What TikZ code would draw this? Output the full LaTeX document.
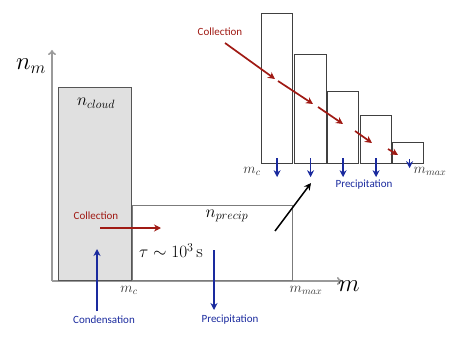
\documentclass[tikz,border=0pt]{standalone}
\usepackage{fontspec}
\usetikzlibrary{arrows.meta}
\newfontfamily\labelfont{Carlito}
\definecolor{redc}{HTML}{A01A14}
\definecolor{bluec}{HTML}{1A2A9E}
\definecolor{axisgray}{HTML}{9A9A9A}
\definecolor{boxgray}{HTML}{555555}
\definecolor{cloudfill}{HTML}{E0E0E0}
\definecolor{labgray}{HTML}{333333}
\tikzset{
  axisline/.style={draw=axisgray, line width=1.6pt, -{To[length=5pt,width=8pt]}},
  cloudbox/.style={draw=boxgray, fill=cloudfill, line width=1.4pt, inner sep=0pt, anchor=north west},
  precipbox/.style={draw=axisgray!80!black, fill=white, line width=1.4pt, inner sep=0pt, anchor=north west},
  barbox/.style={draw=black!75, fill=white, line width=1.2pt, inner sep=0pt, anchor=north west},
  redarrow/.style={draw=redc, line width=1.7pt, -{Stealth[length=7pt,width=7pt]}},
  bluearrow/.style={draw=bluec, line width=1.7pt, -{Stealth[length=7pt,width=7pt]}},
  blackarrow/.style={draw=black, line width=1.5pt, -{Stealth[length=7pt,width=7pt]}},
  redlabel/.style={text=redc, font=\labelfont\fontsize{11}{13}\selectfont, inner sep=0pt},
  bluelabel/.style={text=bluec, font=\labelfont\fontsize{11}{13}\selectfont, inner sep=0pt},
  biglabel/.style={font=\fontsize{24}{28}\selectfont, inner sep=0pt},
  midlabel/.style={font=\fontsize{18}{22}\selectfont, inner sep=0pt},
  smalllabel/.style={text=labgray, font=\fontsize{14}{17}\selectfont, inner sep=0pt},
}
\begin{document}
\begin{tikzpicture}[x=1pt,y=-1pt]
\useasboundingbox (0,0) rectangle (460,342);
% axes
\coordinate (O) at (52,281);
\coordinate (ytop) at (52,50);
\coordinate (xend) at (342,281);
\draw[axisline] (O) -- (ytop);
\draw[axisline] (O) -- (xend);
% main boxes
\node[cloudbox, minimum width=73pt, minimum height=193pt] (cloud) at (58,87) {};
\node[precipbox, minimum width=160pt, minimum height=75pt] (precip) at (132,205) {};
% histogram bars
\node[barbox, minimum width=31pt, minimum height=150pt] (bar1) at (261,13) {};
\node[barbox, minimum width=32pt, minimum height=109pt] (bar2) at (294,54) {};
\node[barbox, minimum width=31pt, minimum height=72pt] (bar3) at (327,91) {};
\node[barbox, minimum width=31pt, minimum height=48pt] (bar4) at (360,115) {};
\node[barbox, minimum width=31pt, minimum height=21pt] (bar5) at (392,142) {};
% labels
\node[biglabel] (nm) at (31,66) {$n_m$};
\node[biglabel] (mlab) at (349,286) {$m$};
\node[midlabel] (ncloud) at (96,103) {$n_{cloud}$};
\node[midlabel] (nprecip) at (227,216) {$n_{precip}$};
\node[midlabel] (tau) at (171,251) {$\tau\sim10^3\,\mathrm{s}$};
\node[smalllabel] (mc) at (129,290) {$m_c$};
\node[smalllabel] (mmax) at (306,290) {$m_{max}$};
\node[smalllabel] (mctop) at (252,171) {$m_c$};
\node[smalllabel] (mmaxtop) at (430,171) {$m_{max}$};
\node[redlabel] (coll1) at (96,216) {Collection};
\node[redlabel] (coll2) at (220,32) {Collection};
\node[bluelabel] (cond) at (104,320) {Condensation};
\node[bluelabel] (prec1) at (230,320) {Precipitation};
\node[bluelabel] (prec2) at (364,185) {Precipitation};
% left arrows
\coordinate (cl1) at (100,228);
\coordinate (cl2) at (161,228);
\draw[redarrow] (cl1) -- (cl2);
\coordinate (cd1) at (97,311);
\coordinate (cd2) at (97,249);
\draw[bluearrow] (cd1) -- (cd2);
\coordinate (pr1) at (214,250);
\coordinate (pr2) at (214,310);
\draw[bluearrow] (pr1) -- (pr2);
% black arrow
\coordinate (bk1) at (275,231);
\coordinate (bk2) at (311,183);
\draw[blackarrow] (bk1) -- (bk2);
% top red arrows
\coordinate (r1a) at (225,43);  \coordinate (r1b) at (275,79);
\coordinate (r2a) at (278,81);  \coordinate (r2b) at (313,104);
\coordinate (r3a) at (318,107); \coordinate (r3b) at (343,124);
\coordinate (r4a) at (355,131); \coordinate (r4b) at (372,143);
\coordinate (r5a) at (388,149); \coordinate (r5b) at (398,155);
\draw[redarrow] (r1a) -- (r1b);
\draw[redarrow] (r2a) -- (r2b);
\draw[redarrow] (r3a) -- (r3b);
\draw[redarrow] (r4a) -- (r4b);
\draw[redarrow] (r5a) -- (r5b);
% top blue arrows
\foreach \b in {1,2,3,4} {
  \coordinate (t\b) at ([yshift=-13pt]bar\b.south);
  \draw[bluearrow] ([yshift=6pt]bar\b.south) -- (t\b);
}
\coordinate (t5) at ([xshift=1.5pt,yshift=-4pt]bar5.south);
\draw[bluearrow] ([xshift=1.5pt,yshift=5pt]bar5.south) -- (t5);
\end{tikzpicture}
\end{document}
